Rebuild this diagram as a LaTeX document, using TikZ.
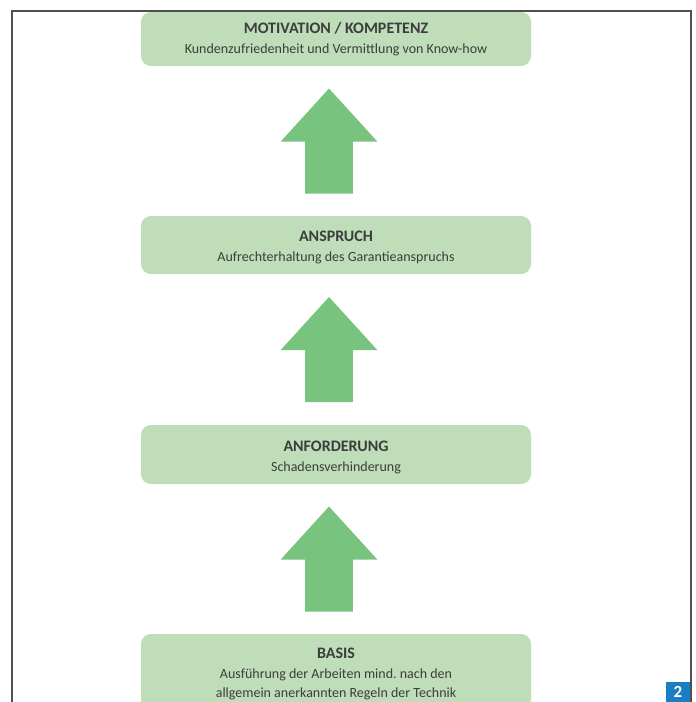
\documentclass[tikz,border=0pt]{standalone}
\usepackage{fontspec}
\setmainfont{Carlito}
\usetikzlibrary{calc}
\definecolor{boxgreen}{HTML}{BEDDB8}
\definecolor{arrowgreen}{HTML}{78C47E}
\definecolor{textgray}{HTML}{3D3D3D}
\definecolor{framegray}{HTML}{505050}
\definecolor{numblue}{HTML}{1C7EC2}
\tikzset{
 stage/.style={rounded corners=10pt, fill=boxgreen, text=textgray, align=center,
  minimum width=390pt, inner sep=0pt, font=\fontsize{14}{19}\selectfont\frenchspacing},
 uparrow/.style={fill=arrowgreen}
}
\newcommand{\stagetitle}[2][0pt]{\rule{0pt}{#1}{\fontsize{16}{19}\selectfont\bfseries #2}}
\begin{document}
\begin{tikzpicture}[x=1pt,y=-1pt]
 \useasboundingbox (0,0) rectangle (696,702);
 \clip (0,0) rectangle (696,702);
 \def\cx{336}
 \node[stage, minimum height=54pt] (mot) at (\cx,39)
  {\stagetitle{MOTIVATION / KOMPETENZ}\\[1pt]Kundenzufriedenheit und Vermittlung von Know-how};
 \node[stage, minimum height=58pt] (ans) at (\cx,245)
  {\stagetitle[16pt]{ANSPRUCH}\\[1pt]Aufrechterhaltung des Garantieanspruchs};
 \node[stage, minimum height=59pt] (anf) at (\cx,454.5)
  {\stagetitle[16pt]{ANFORDERUNG}\\[1pt]Schadensverhinderung};
 \node[stage, minimum height=78pt] (basis) at (\cx,673)
  {\stagetitle[13pt]{BASIS}\\[1pt]Ausführung der Arbeiten mind. nach den\\allgemein anerkannten Regeln der Technik};
 \foreach \lo/\hi in {basis/anf,anf/ans,ans/mot}{
  \path (\lo.north) -- (\hi.south) coordinate[pos=.5,xshift=-7pt] (m-\lo);
  \fill[uparrow] ($(m-\lo)+(0,-52.5)$) -- ++(48.3,53) -- ++(-24.5,0) -- ++(0,52)
   -- ++(-47.6,0) -- ++(0,-52) -- ++(-24.5,0) -- cycle;
 }
 \draw[framegray, line width=1.2pt] (12,702) -- (12,11) -- (691,11) -- (691,702);
 \fill[numblue] (666,682) rectangle (690,702);
 \node[text=white, font=\fontsize{17}{17}\selectfont\bfseries, inner sep=0pt] (num) at (678,692) {2};
\end{tikzpicture}
\end{document}
